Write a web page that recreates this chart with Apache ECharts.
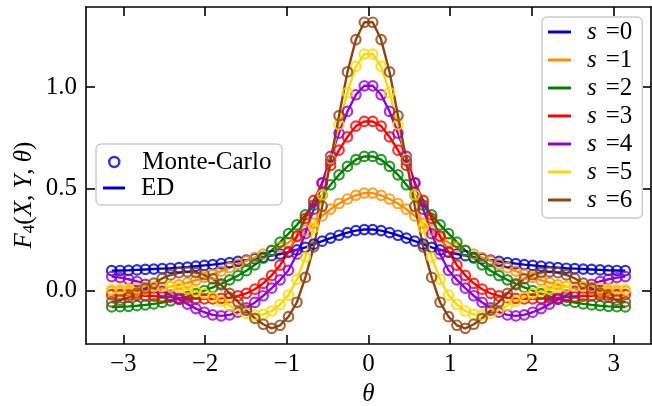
<!DOCTYPE html>
<html>
<head>
<meta charset="utf-8">
<script src="https://cdn.jsdelivr.net/npm/echarts@6/dist/echarts.min.js"></script>
<style>
html,body{margin:0;padding:0;background:#fff;}
#c{width:652px;height:406px;}
</style>
</head>
<body>
<div id="c"></div>
<script>
var theta = [-3.1416,-3.0386,-2.9356,-2.8326,-2.7296,-2.6266,-2.5236,-2.4206,-2.3176,-2.2146,-2.1116,-2.0086,-1.9056,-1.8026,-1.6996,-1.5966,-1.4936,-1.3906,-1.2876,-1.1845,-1.0815,-0.9785,-0.8755,-0.7725,-0.6695,-0.5665,-0.4635,-0.3605,-0.2575,-0.1545,-0.0515,
 0.0515,0.1545,0.2575,0.3605,0.4635,0.5665,0.6695,0.7725,0.8755,0.9785,1.0815,1.1845,1.2876,1.3906,1.4936,1.5966,1.6996,1.8026,1.9056,2.0086,2.1116,2.2146,2.3176,2.4206,2.5236,2.6266,2.7296,2.8326,2.9356,3.0386,3.1416];

var s0 = [0.098,0.099,0.100,0.102,0.104,0.106,0.108,0.110,0.113,0.116,0.120,0.124,0.128,0.133,0.138,0.144,0.150,0.157,0.164,0.172,0.180,0.189,0.200,0.213,0.228,0.243,0.258,0.272,0.285,0.295,0.300,
 0.300,0.295,0.285,0.272,0.258,0.243,0.228,0.213,0.200,0.189,0.180,0.172,0.164,0.157,0.150,0.144,0.138,0.133,0.128,0.124,0.120,0.116,0.113,0.110,0.108,0.106,0.104,0.102,0.100,0.099,0.098];
var s1 = [-0.002,-0.002,-0.001,0.001,0.004,0.008,0.013,0.020,0.029,0.039,0.051,0.065,0.080,0.096,0.113,0.130,0.146,0.162,0.179,0.196,0.214,0.236,0.264,0.297,0.332,0.367,0.400,0.428,0.450,0.468,0.479,
 0.479,0.468,0.450,0.428,0.400,0.367,0.332,0.297,0.264,0.236,0.214,0.196,0.179,0.162,0.146,0.130,0.113,0.096,0.080,0.065,0.051,0.039,0.029,0.020,0.013,0.008,0.004,0.001,-0.001,-0.002,-0.002];
var s2 = [-0.080,-0.079,-0.077,-0.074,-0.070,-0.065,-0.058,-0.050,-0.040,-0.028,-0.015,0.000,0.016,0.034,0.053,0.074,0.098,0.127,0.160,0.198,0.238,0.280,0.323,0.372,0.420,0.470,0.520,0.569,0.610,0.643,0.659,
 0.659,0.643,0.610,0.569,0.520,0.470,0.420,0.372,0.323,0.280,0.238,0.198,0.160,0.127,0.098,0.074,0.053,0.034,0.016,0.000,-0.015,-0.028,-0.040,-0.050,-0.058,-0.065,-0.070,-0.074,-0.077,-0.079,-0.080];
var s3 = [-0.020,-0.020,-0.021,-0.023,-0.025,-0.027,-0.030,-0.032,-0.035,-0.037,-0.039,-0.040,-0.040,-0.038,-0.034,-0.026,-0.013,0.007,0.036,0.075,0.125,0.190,0.268,0.355,0.443,0.530,0.615,0.690,0.755,0.808,0.831,
 0.831,0.808,0.755,0.690,0.615,0.530,0.443,0.355,0.268,0.190,0.125,0.075,0.036,0.007,-0.013,-0.026,-0.034,-0.038,-0.040,-0.040,-0.039,-0.037,-0.035,-0.032,-0.030,-0.027,-0.025,-0.023,-0.021,-0.020,-0.020];
var s4 = [0.069,0.064,0.056,0.045,0.031,0.015,-0.003,-0.022,-0.043,-0.066,-0.088,-0.106,-0.119,-0.124,-0.119,-0.106,-0.085,-0.058,-0.025,0.012,0.053,0.100,0.180,0.280,0.400,0.528,0.659,0.774,0.880,0.962,1.006,
 1.006,0.962,0.880,0.774,0.659,0.528,0.400,0.280,0.180,0.100,0.053,0.012,-0.025,-0.058,-0.085,-0.106,-0.119,-0.124,-0.119,-0.106,-0.088,-0.066,-0.043,-0.022,-0.003,0.015,0.031,0.045,0.056,0.064,0.069];
var s5 = [0.005,0.006,0.009,0.013,0.017,0.020,0.021,0.019,0.015,0.008,-0.002,-0.015,-0.032,-0.052,-0.074,-0.095,-0.112,-0.120,-0.117,-0.100,-0.068,-0.022,0.055,0.165,0.310,0.470,0.645,0.815,0.973,1.101,1.162,
 1.162,1.101,0.973,0.815,0.645,0.470,0.310,0.165,0.055,-0.022,-0.068,-0.100,-0.117,-0.120,-0.112,-0.095,-0.074,-0.052,-0.032,-0.015,-0.002,0.008,0.015,0.019,0.021,0.020,0.017,0.013,0.009,0.006,0.005];
var s6 = [-0.055,-0.047,-0.033,-0.012,0.012,0.037,0.060,0.077,0.088,0.092,0.089,0.078,0.058,0.028,-0.013,-0.055,-0.097,-0.136,-0.165,-0.185,-0.170,-0.128,-0.057,0.065,0.215,0.415,0.639,0.860,1.074,1.233,1.318,
 1.318,1.233,1.074,0.860,0.639,0.415,0.215,0.065,-0.057,-0.128,-0.170,-0.185,-0.165,-0.136,-0.097,-0.055,-0.013,0.028,0.058,0.078,0.089,0.092,0.088,0.077,0.060,0.037,0.012,-0.012,-0.033,-0.047,-0.055];

var seriesValues = [s0, s1, s2, s3, s4, s5, s6];
var seriesNames = ['s =0','s =1','s =2','s =3','s =4','s =5','s =6'];
var colors = ['#0000cd','#ff8c00','#008000','#ff0000','#9400d3','#ffd700','#8b4513'];
var xTicks = [-3,-2,-1,0,1,2,3];
var yTicks = [0, 0.5, 1.0];
var FONT = 'Liberation Serif';
var FS = 25;

var series = [];
seriesValues.forEach(function (vals, k) {
  var pts = theta.map(function (t, i) { return [t, vals[i]]; });
  series.push({
    type: 'scatter', name: 'mc' + k, data: pts, symbol: 'circle', symbolSize: 9.5,
    itemStyle: { color: 'rgba(0,0,0,0)', borderColor: colors[k], borderWidth: 2.2 },
    silent: true, animation: false, z: 2
  });
  series.push({
    type: 'line', name: seriesNames[k], data: pts, color: colors[k], showSymbol: false,
    lineStyle: { width: 2.4, color: colors[k] }, silent: true, animation: false, z: 2
  });
});
series.push({ type: 'scatter', name: 'Monte-Carlo', data: [], color: '#0000cd',
  itemStyle: { color: 'rgba(0,0,0,0)', borderColor: '#0000cd', borderWidth: 2.5 } });
series.push({ type: 'line', name: 'ED', data: [], color: '#0000cd', lineStyle: { width: 2.5 } });

function minusFmt(v) { return v < 0 ? '\u2212' + (-v) : String(v); }

var axisCommon = {
  axisLine: { show: true, onZero: false, lineStyle: { color: '#000', width: 1.6 } },
  splitLine: { show: false }
};
var tickStyle = { color: '#000', width: 1.6 };

var option = {
  animation: false,
  backgroundColor: '#fff',
  grid: { left: 86, right: 1, top: 7, bottom: 62, containLabel: false, outerBoundsMode: 'none' },
  xAxis: [
    Object.assign({}, axisCommon, {
      type: 'value', position: 'bottom', min: -3.456, max: 3.456,
      axisTick: { show: true, inside: true, length: 9, lineStyle: tickStyle, customValues: xTicks },
      axisLabel: { customValues: xTicks, formatter: minusFmt, fontFamily: FONT, fontSize: FS, color: '#000', margin: 8 },
      name: 'θ', nameLocation: 'middle', nameGap: 38,
      nameTextStyle: { fontFamily: FONT, fontSize: FS, fontStyle: 'italic', color: '#000' }
    }),
    Object.assign({}, axisCommon, {
      type: 'value', position: 'top', min: -3.456, max: 3.456,
      axisTick: { show: true, inside: true, length: 9, lineStyle: tickStyle, customValues: xTicks },
      axisLabel: { show: false, customValues: xTicks }
    })
  ],
  yAxis: [
    Object.assign({}, axisCommon, {
      type: 'value', position: 'left', min: -0.262, max: 1.393,
      axisTick: { show: true, inside: true, length: 9, lineStyle: tickStyle, customValues: yTicks },
      axisLabel: { customValues: yTicks, formatter: function (v) { return v.toFixed(1); }, fontFamily: FONT, fontSize: FS, color: '#000', margin: 9 }
    }),
    Object.assign({}, axisCommon, {
      type: 'value', position: 'right', min: -0.262, max: 1.393,
      axisTick: { show: true, inside: true, length: 9, lineStyle: tickStyle, customValues: yTicks },
      axisLabel: { show: false, customValues: yTicks }
    })
  ],
  legend: [
    {
      data: seriesNames, orient: 'vertical', left: 542, top: 17,
      icon: 'rect', itemWidth: 23, itemHeight: 3, itemGap: 0,
      padding: [1, 10, 4, 6],
      backgroundColor: 'rgba(255,255,255,0.8)', borderColor: '#cccccc', borderWidth: 1.5, borderRadius: 5,
      selectedMode: false,
      formatter: function (n) { return '{i|s}{r|=' + n.split('=')[1] + '}'; },
      textStyle: {
        fontFamily: FONT, fontSize: FS, color: '#000', lineHeight: 28, padding: [0, 0, 0, 11],
        rich: {
          i: { fontFamily: FONT, fontSize: FS, fontStyle: 'italic', color: '#000', lineHeight: 28, padding: [0, 9, 0, 0] },
          r: { fontFamily: FONT, fontSize: FS, color: '#000', lineHeight: 28 }
        }
      }
    },
    {
      data: [{ name: 'Monte-Carlo', icon: 'circle', itemStyle: { color: 'rgba(0,0,0,0)', borderColor: '#0000cd', borderWidth: 2.5 } }],
      left: 108, top: 149, itemWidth: 10, itemHeight: 10, padding: 0, selectedMode: false,
      textStyle: { fontFamily: FONT, fontSize: FS, color: '#000', lineHeight: 26, padding: [0, 0, 0, 18] }
    },
    {
      data: [{ name: 'ED', icon: 'rect', itemStyle: { color: '#0000cd' } }],
      left: 103, top: 175, itemWidth: 22, itemHeight: 3, padding: 0, selectedMode: false,
      textStyle: { fontFamily: FONT, fontSize: FS, color: '#000', lineHeight: 26, padding: [0, 0, 0, 11] }
    }
  ],
  graphic: [
    {
      type: 'rect', z: 3, silent: true,
      shape: { x: 96, y: 144, width: 186, height: 61, r: 5 },
      style: { fill: 'rgba(255,255,255,0.8)', stroke: '#cccccc', lineWidth: 1.5 }
    },
    {
      type: 'text', z: 5, silent: true, x: 24, y: 195, rotation: Math.PI / 2,
      style: {
        text: '{i|F}{sub|4}{r|(}{i|X}{r|, }{i|Y}{r|, }{i|θ}{r|)}',
        align: 'center', verticalAlign: 'middle',
        rich: {
          i: { fontFamily: FONT, fontSize: FS, fontStyle: 'italic', fill: '#000' },
          r: { fontFamily: FONT, fontSize: FS, fill: '#000' },
          sub: { fontFamily: FONT, fontSize: 17, fill: '#000', padding: [12, 0, 0, 0] }
        }
      }
    }
  ],
  series: series
};

var chart = echarts.init(document.getElementById('c'), null, { renderer: 'canvas' });
chart.setOption(option);
</script>
</body>
</html>
